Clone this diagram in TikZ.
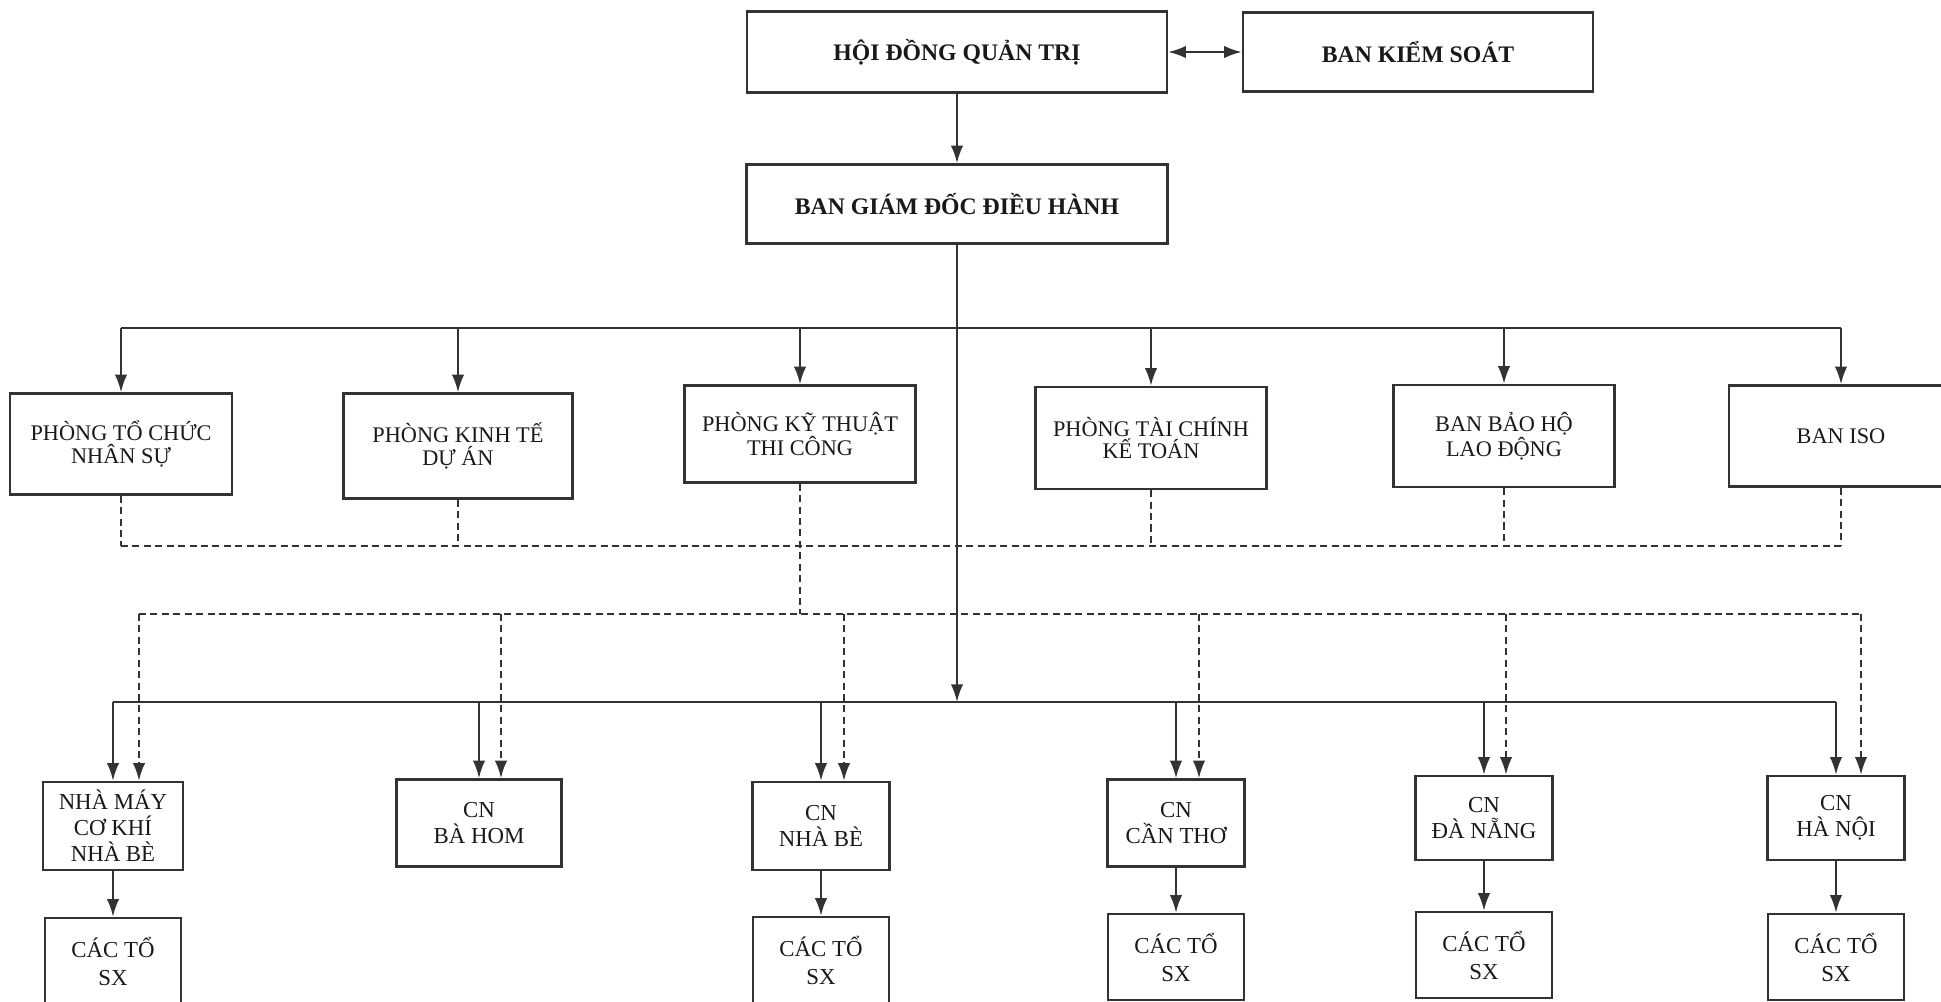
\documentclass[tikz,border=0pt]{standalone}
\usepackage{fontspec}
\setmainfont{Liberation Serif}
\usepackage{tikz}
\usetikzlibrary{arrows.meta}

\begin{document}
\begin{tikzpicture}[x=0.02cm,y=-0.02cm,line width=1.2pt,draw=black!80]
        %
        % `board' is used for the three top boxes (bold text).
        % `unit' is used for the departments and branches.
        % `arr' and `dline' are the solid and dashed connectors.
        \tikzstyle{board} = [draw,line width=1.4pt,fill=white,text=black!90,font=\fontsize{13.5}{15}\selectfont\bfseries]
        \tikzstyle{unit} = [draw,line width=1.4pt,fill=white,text=black!90,align=center,font=\fontsize{12.7}{12.8}\selectfont]
        \tikzstyle{branch} = [unit,font=\fontsize{13}{14.7}\selectfont,minimum width=2.74cm,minimum height=1.74cm]
        \tikzstyle{team} = [unit,font=\fontsize{13}{15.9}\selectfont,minimum width=2.72cm,minimum height=1.72cm]
        \tikzstyle{arr} = [-{Latex[length=10pt,width=7pt]}]
        \tikzstyle{dline} = [dash pattern=on 4pt off 2.5pt]
        %
        \useasboundingbox (0,0) rectangle (1941,1001);
        \clip (0,0) rectangle (1941,1001);
        %
        % Top
        \node[board,minimum width=8.4cm,minimum height=1.62cm] (hdqt) at (957,52) {HỘI ĐỒNG QUẢN TRỊ};
        \node[board,minimum width=7cm,minimum height=1.58cm] (bks) at (1418,52) {BAN KIỂM SOÁT};
        \node[board,minimum width=8.42cm,minimum height=1.58cm] (bgd) at (957,204) {BAN GIÁM ĐỐC ĐIỀU HÀNH};
        \draw[{Latex[length=10pt,width=7pt]}-{Latex[length=10pt,width=7pt]}] (hdqt) -- (bks);
        \draw[arr] (hdqt) -- (bgd);
        %
        % Departments
        \node[unit,minimum width=4.44cm,minimum height=2.02cm] (p1) at (121,444) {PHÒNG TỔ CHỨC\\NHÂN SỰ};
        \node[unit,minimum width=4.58cm,minimum height=2.1cm] (p2) at (458,446) {PHÒNG KINH TẾ\\DỰ ÁN};
        \node[unit,minimum width=4.62cm,minimum height=1.94cm] (p3) at (800,434) {PHÒNG KỸ THUẬT\\THI CÔNG};
        \node[unit,minimum width=4.62cm,minimum height=2.04cm] (p4) at (1151,438) {PHÒNG TÀI CHÍNH\\KẾ TOÁN};
        \node[unit,minimum width=4.42cm,minimum height=2.04cm] (p5) at (1504,436) {BAN BẢO HỘ\\LAO ĐỘNG};
        \node[unit,minimum width=4.48cm,minimum height=2.02cm] (p6) at (1841,436) {BAN ISO};
        %
        % Branches
        \node[branch,minimum width=2.8cm,minimum height=1.76cm] (r1) at (113,826) {NHÀ MÁY\\CƠ KHÍ\\NHÀ BÈ};
        \node[branch,minimum width=3.3cm] (r2) at (479,823) {CN\\BÀ HOM};
        \node[branch,minimum height=1.76cm] (r3) at (821,826) {CN\\NHÀ BÈ};
        \node[branch] (r4) at (1176,823) {CN\\CẦN THƠ};
        \node[branch,minimum height=1.68cm] (r5) at (1484,818) {CN\\ĐÀ NẴNG};
        \node[branch,minimum height=1.68cm] (r6) at (1836,818) {CN\\HÀ NỘI};
        %
        % Teams
        \node[team] (s1) at (113,961) {CÁC TỔ\\SX};
        \node[team] (s3) at (821,960) {CÁC TỔ\\SX};
        \node[team] (s4) at (1176,957) {CÁC TỔ\\SX};
        \node[team] (s5) at (1484,955) {CÁC TỔ\\SX};
        \node[team] (s6) at (1836,957) {CÁC TỔ\\SX};
        %
        % Solid lines
        \coordinate (t1) at (121,328);
        \coordinate (t6) at (1841,328);
        \coordinate (trunk) at (957,702);
        \coordinate (b1) at (113,702);
        \coordinate (b6) at (1836,702);
        \draw (t1) -- (t6);
        \draw[arr] (bgd) -- (trunk);
        \draw (b1) -- (b6);
        \foreach \p/\x in {p1/121,p2/458,p3/800,p4/1151,p5/1504,p6/1841}
                \draw[arr] (\x,328) -- (\p);
        \foreach \r/\x in {r1/113,r2/479,r3/821,r4/1176,r5/1484,r6/1836}
                \draw[arr] (\x,702) -- (\x,702 |- \r.north);
        \foreach \r/\s in {r1/s1,r3/s3,r4/s4,r5/s5,r6/s6}
                \draw[arr] (\r) -- (\s);
        %
        % Dashed lines
        \coordinate (u1) at (121,546);
        \coordinate (u3) at (800,546);
        \coordinate (u6) at (1841,546);
        \coordinate (dc) at (800,614);
        \coordinate (d1) at (139,614);
        \coordinate (d6) at (1861,614);
        \foreach \p in {p1,p2,p4,p5,p6}
                \draw[dline] (\p) -- (\p |- u1);
        \draw[dline] (u1) -- (u6);
        \draw[dline] (p3) -- (u3) -- (dc);
        \draw[dline] (d1) -- (d6);
        \foreach \r/\x in {r1/139,r2/501,r3/844,r4/1199,r5/1506,r6/1861}
                \draw[dline,arr] (\x,614) -- (\x,614 |- \r.north);
        %
\end{tikzpicture}
\end{document}
